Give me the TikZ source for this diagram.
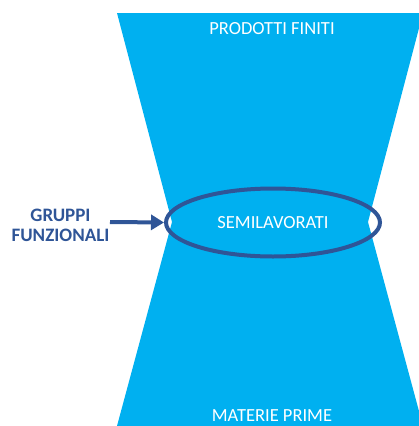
\documentclass[tikz,border=0pt]{standalone}
\usepackage{fontspec}
\setmainfont{Carlito}
\usetikzlibrary{shapes.geometric,arrows.meta}
\definecolor{sky}{HTML}{00B0F0}
\definecolor{navy}{HTML}{2F5597}
\tikzset{
  whitelabel/.style={text=white, font=\fontsize{18.5bp}{22bp}\selectfont, inner sep=0pt},
  ring/.style={ellipse, draw=navy, line width=4bp, minimum width=214bp, minimum height=68bp, inner sep=0pt, outer sep=0pt},
  sidelabel/.style={text=navy, font=\bfseries\fontsize{19bp}{20bp}\selectfont, align=center, inner sep=0pt},
  feed/.style={draw=navy, line width=4bp, -{Triangle[length=13bp,width=15bp]}, shorten >=2bp}
}
\begin{document}
\begin{tikzpicture}[x=1bp,y=-1bp]
  \useasboundingbox (0,0) rectangle (419,426);
  \clip (0,0) rectangle (419,426);
  % hourglass body
  \fill[sky] (117,13) -- (423,13) -- (368,222) -- (423,426) -- (117,426) -- (172,222) -- cycle;
  % labels inside the hourglass
  \node[whitelabel] (top) at (272,29) {PRODOTTI FINITI};
  \node[whitelabel] (bottom) at (272,416) {MATERIE PRIME};
  % the waist
  \node[ring, whitelabel, text=white] (semi) at (273,222.5) {SEMILAVORATI};
  % side label with its arrow
  \node[sidelabel] (gruppi) at (60.5,225) {GRUPPI\\FUNZIONALI};
  \coordinate (from) at (110,222);
  \draw[feed] (from) -- (semi.west);
\end{tikzpicture}
\end{document}
